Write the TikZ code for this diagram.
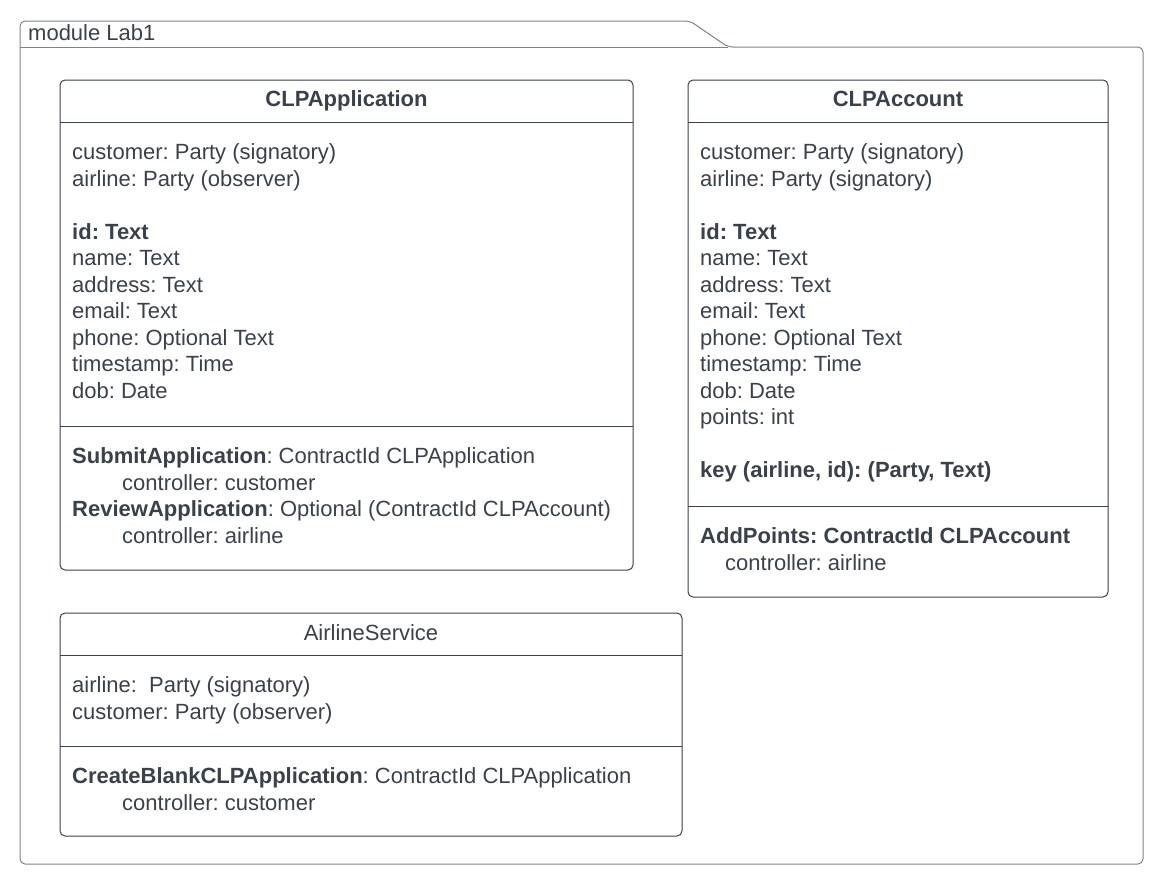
\documentclass[tikz,border=0pt]{standalone}
\usepackage{fontspec}
\setmainfont{Liberation Sans}
\frenchspacing
\definecolor{ink}{HTML}{3A414A}
\definecolor{frame}{HTML}{7F8389}
\newcommand*{\uml}{\fontsize{22}{26.5}\selectfont}

\begin{document}
\begin{tikzpicture}[x=1pt,y=-1pt,
  pkg/.style={draw=frame,line width=1pt,rounded corners=5pt},
  box/.style={draw=ink,line width=1pt,rounded corners=5pt},
  sep/.style={draw=ink,line width=1pt},
  title/.style={inner sep=0pt,anchor=base,text=ink,font=\uml},
  body/.style={inner sep=0pt,anchor=north west,align=left,text=ink,font=\uml,
    execute at begin node=\strut}]
\useasboundingbox (0,0) rectangle (1163,884);

% package
\draw[pkg] (20,864) -- (20,21) -- (690,21) -- (728,47) -- (1143,47) -- (1143,864) -- cycle;
\draw[pkg] (20,47) -- (728,47);
\node[title,anchor=base west] (pkgname) at (28,40) {module Lab1};

% CLPApplication
\draw[box] (60,80) rectangle (633,570);
\draw[sep] (60,122) -- (633,122);
\draw[sep] (60,426) -- (633,426);
\node[title,font=\uml\bfseries] (apptitle) at (346.5,106) {CLPApplication};
\node[body] (appattr) at (72,143.5) {customer: Party (signatory)\\
  airline: Party (observer)\\[26.5pt]
  \textbf{id: Text}\\
  name: Text\\
  address: Text\\
  email: Text\\
  phone: Optional Text\\
  timestamp: Time\\
  dob: Date};
\node[body] (appops) at (72,447.5) {\textbf{SubmitApplication}: ContractId CLPApplication\\
  \hspace*{50pt}controller: customer\\
  \textbf{ReviewApplication}: Optional (ContractId CLPAccount)\\
  \hspace*{50pt}controller: airline};

% CLPAccount
\draw[box] (688,80) rectangle (1108,597);
\draw[sep] (688,122) -- (1108,122);
\draw[sep] (688,506) -- (1108,506);
\node[title,font=\uml\bfseries] (acctitle) at (898,106) {CLPAccount};
\node[body] (accattr) at (700,143.5) {customer: Party (signatory)\\
  airline: Party (signatory)\\[26.5pt]
  \textbf{id: Text}\\
  name: Text\\
  address: Text\\
  email: Text\\
  phone: Optional Text\\
  timestamp: Time\\
  dob: Date\\
  points: int\\[26.5pt]
  \textbf{key (airline, id): (Party, Text)}};
\node[body] (accops) at (700,527.5) {\textbf{AddPoints: ContractId CLPAccount}\\
  \hspace*{25pt}controller: airline};

% AirlineService
\draw[box] (60,613) rectangle (682,836);
\draw[sep] (60,655) -- (682,655);
\draw[sep] (60,746) -- (682,746);
\node[title] (svctitle) at (371,640) {AirlineService};
\node[body] (svcattr) at (72,676.5) {airline:\ \ Party (signatory)\\
  customer: Party (observer)};
\node[body] (svcops) at (72,767.5) {\textbf{CreateBlankCLPApplication}: ContractId CLPApplication\\
  \hspace*{50pt}controller: customer};
\end{tikzpicture}
\end{document}
